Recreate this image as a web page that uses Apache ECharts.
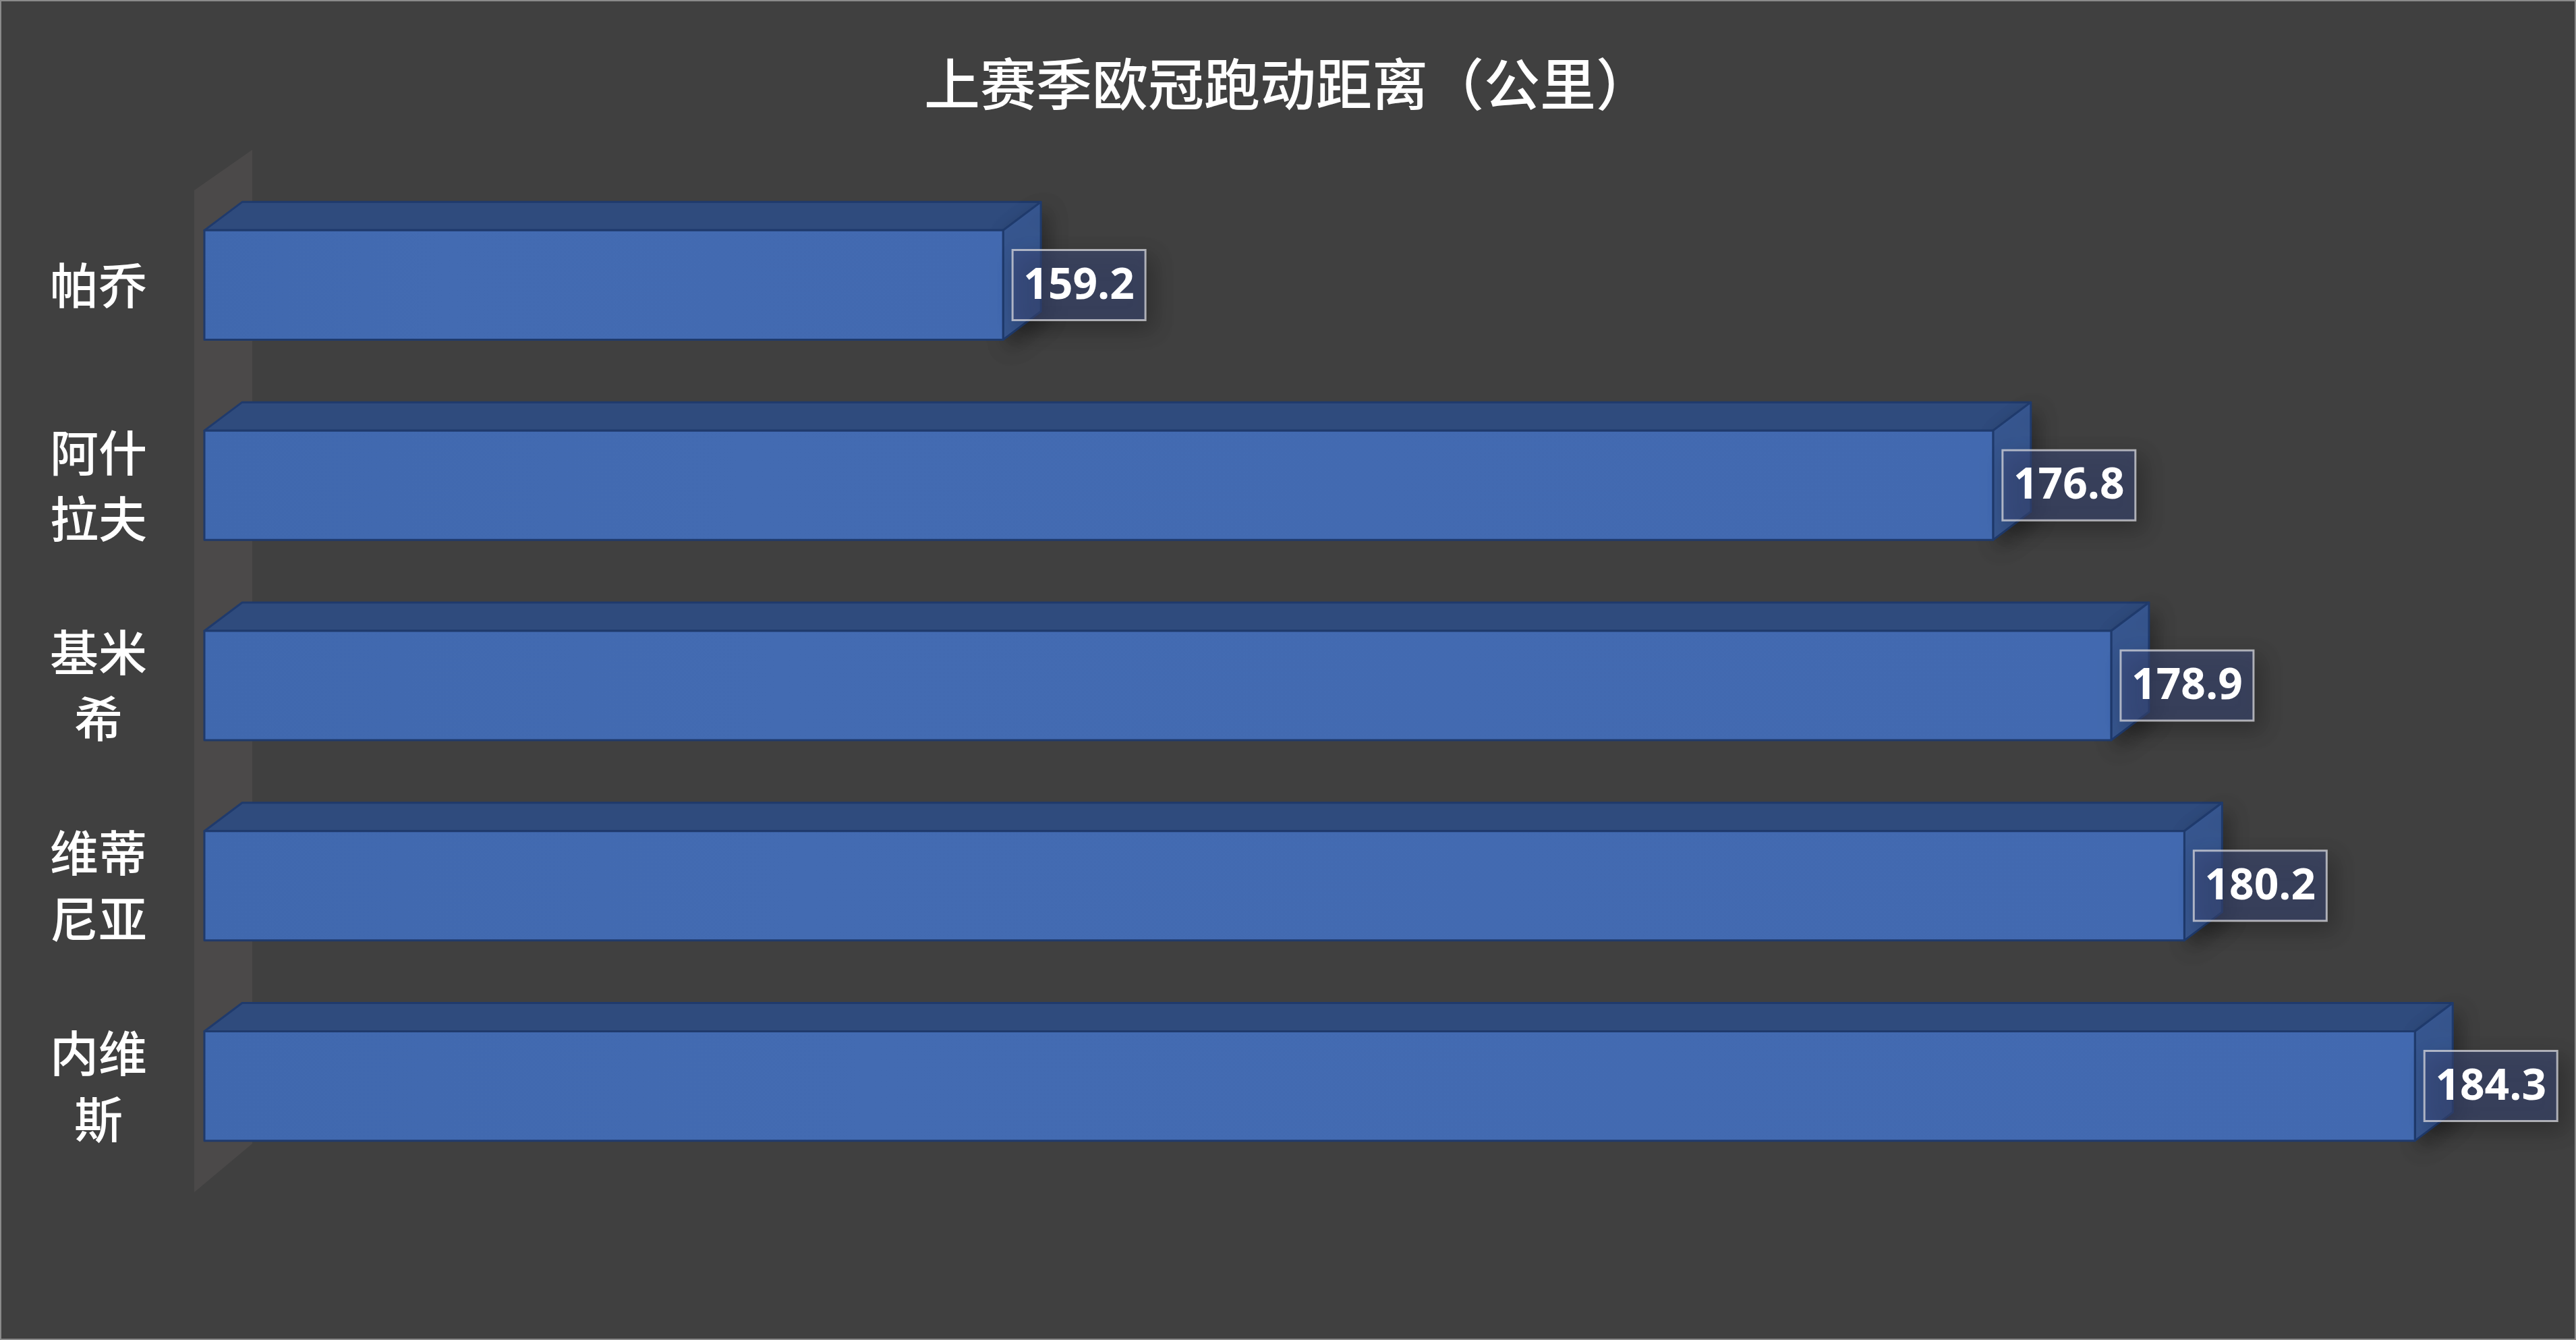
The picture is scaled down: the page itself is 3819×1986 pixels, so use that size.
<!DOCTYPE html>
<html>
<head>
<meta charset="utf-8">
<script src="https://cdn.jsdelivr.net/npm/echarts@6/dist/echarts.min.js"></script>
<style>
  html, body { margin: 0; padding: 0; background: #404040; }
  #main { width: 3819px; height: 1986px; box-sizing: border-box; border: 2px solid #8a8a8a; }
</style>
</head>
<body>
<div id="main"></div>
<script>
// 数据
const players = ['帕乔', '阿什拉夫', '基米希', '维蒂尼亚', '内维斯'];
const distances = [159.2, 176.8, 178.9, 180.2, 184.3];
const axisMin = 145;
const axisMax = 185;

// 3D 偏移
const DX = 56, DY = -42;

const chart = echarts.init(document.getElementById('main'));

function renderBox(params, api) {
  const v = api.value(0);
  const idx = api.value(1);
  const start = api.coord([axisMin, idx]);
  const end = api.coord([v, idx]);
  const h = api.size([0, 1])[1] * 0.546;
  const x0 = start[0], x1 = end[0];
  const yt = end[1] - h / 2, yb = end[1] + h / 2;
  const edge = { stroke: '#1f3a6c', lineWidth: 3, lineJoin: 'round' };
  const lw = 197, lh = 104;
  const lx = x1 + 14;
  return {
    type: 'group',
    children: [
      {
        type: 'polygon',
        shape: { points: [[x0, yt], [x0 + DX, yt + DY], [x1 + DX, yt + DY], [x1, yt]] },
        style: Object.assign({ fill: '#2f4b7d' }, edge)
      },
      {
        type: 'polygon',
        shape: { points: [[x1, yt], [x1 + DX, yt + DY], [x1 + DX, yb + DY], [x1, yb]] },
        style: Object.assign({ fill: '#385892', shadowBlur: 30, shadowColor: 'rgba(0,0,0,0.35)', shadowOffsetX: 8, shadowOffsetY: 12 }, edge)
      },
      {
        type: 'rect',
        shape: { x: x0, y: yt, width: x1 - x0, height: yb - yt },
        style: Object.assign({
          fill: new echarts.graphic.LinearGradient(0, 0, 1, 0, [
            { offset: 0, color: '#4068ae' },
            { offset: 0.3, color: '#436bb2' },
            { offset: 1, color: '#4269b0' }
          ])
        }, edge)
      },
      {
        type: 'rect',
        shape: { x: lx, y: end[1] - lh / 2, width: lw, height: lh },
        style: {
          fill: 'rgba(62,77,126,0.55)',
          stroke: 'rgba(215,215,220,0.75)',
          lineWidth: 3,
          shadowBlur: 30,
          shadowColor: 'rgba(0,0,0,0.45)',
          shadowOffsetX: 10,
          shadowOffsetY: 12
        }
      },
      {
        type: 'text',
        style: {
          text: v.toFixed(1),
          x: lx + lw / 2,
          y: end[1] + 2,
          align: 'center',
          verticalAlign: 'middle',
          fill: '#ffffff',
          font: 'bold 64px "Open Sans", "Noto Sans", sans-serif'
        }
      }
    ]
  };
}

function renderWall(params, api) {
  const cs = params.coordSys;
  const lx = cs.x - 15, rx = cs.x + 71;
  return {
    type: 'polygon',
    z2: -10,
    shape: {
      points: [
        [lx, cs.y + 8], [rx, cs.y - 52],
        [rx, cs.y + cs.height - 63], [lx, cs.y + cs.height + 9]
      ]
    },
    style: { fill: '#4b4949' }
  };
}

chart.setOption({
  backgroundColor: '#404040',
  animation: false,
  title: {
    text: '上赛季欧冠跑动距离（公里）',
    left: 'center',
    top: 72,
    textStyle: {
      color: '#ffffff',
      fontSize: 83,
      fontWeight: 500,
      fontFamily: '"Noto Sans CJK SC", sans-serif',
      lineHeight: 90
    }
  },
  grid: { left: 301, top: 272, width: (axisMax - axisMin) * 83.39, height: 1484 },
  xAxis: {
    type: 'value',
    min: axisMin,
    max: axisMax,
    show: false
  },
  yAxis: {
    type: 'category',
    data: players,
    inverse: true,
    axisLine: { show: false },
    axisTick: { show: false },
    splitLine: { show: false },
    axisLabel: {
      margin: 157,
      align: 'center',
      color: '#ffffff',
      fontSize: 72,
      fontWeight: 500,
      lineHeight: 98,
      padding: [14, 0, 0, 0],
      fontFamily: '"Noto Sans CJK SC", sans-serif',
      formatter: function (name) {
        const parts = [];
        for (let i = 0; i < name.length; i += 2) parts.push(name.slice(i, i + 2));
        return parts.join('\n');
      }
    }
  },
  series: [
    {
      type: 'custom',
      renderItem: renderWall,
      data: [[axisMin, 0]],
      encode: { x: 0, y: 1 },
      z: 1,
      silent: true
    },
    {
      type: 'custom',
      renderItem: renderBox,
      data: distances.map((d, i) => [d, i]),
      encode: { x: 0, y: 1 },
      z: 2
    }
  ]
});
</script>
</body>
</html>
